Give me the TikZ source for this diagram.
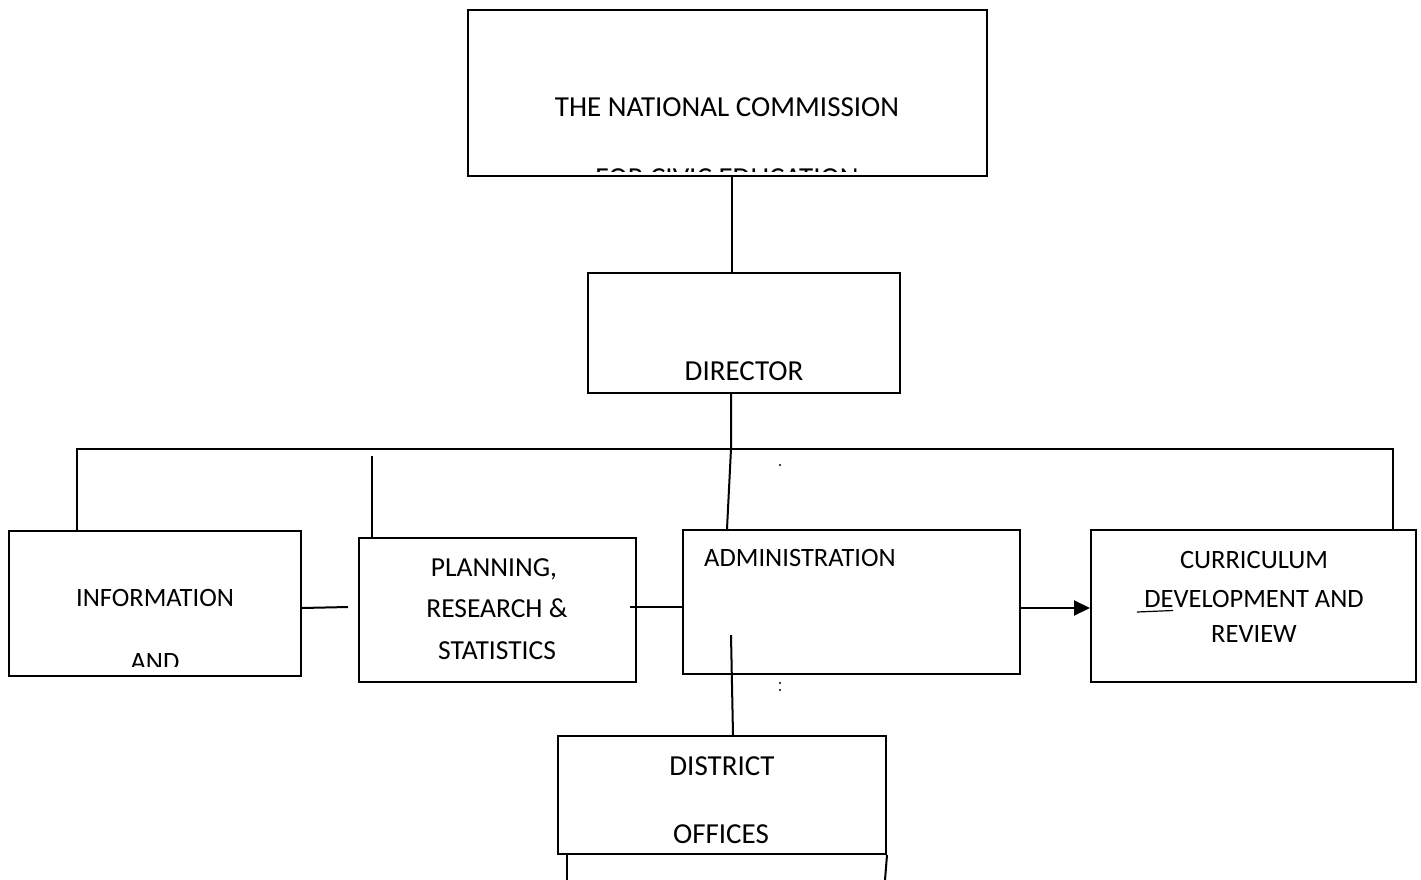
\documentclass[tikz,border=0pt]{standalone}
\usepackage{fontspec}
\setmainfont{Carlito}
\usepackage{tikz}
\usetikzlibrary{arrows.meta,positioning}

\begin{document}
\begin{tikzpicture}
	[x=1pt,y=-1pt,
	unitbox/.style={rectangle,draw=black,line width=2pt,inner sep=0pt},
	bigtxt/.style={anchor=base,inner sep=0pt,font=\fontsize{29}{35}\selectfont},
	midtxt/.style={anchor=base,inner sep=0pt,font=\fontsize{27.5}{33}\selectfont},
	smalltxt/.style={anchor=base,inner sep=0pt,font=\fontsize{26.5}{32}\selectfont},
	link/.style={draw=black,line width=2pt}]
	\useasboundingbox (0,0) rectangle (1421,880);

	%boxes
	\node[unitbox,minimum width=519,minimum height=166] (comm) at (727.5,93) {};
	\node[unitbox,minimum width=312,minimum height=120] (dir) at (744,333) {};
	\node[unitbox,minimum width=292,minimum height=145] (info) at (155,603.5) {};
	\node[unitbox,minimum width=277,minimum height=144] (plan) at (497.5,610) {};
	\node[unitbox,minimum width=337,minimum height=144] (admin) at (851.5,602) {};
	\node[unitbox,minimum width=325,minimum height=152] (curr) at (1253.5,606) {};
	\node[unitbox,minimum width=328,minimum height=118] (dist) at (722,795) {};

	%texts
	\node[bigtxt] (commA) at (727,116.3) {THE NATIONAL COMMISSION};
	\begin{scope}
		\clip (468,10) rectangle (987,171);
		\node[bigtxt] (commB) at (727,187.5) {FOR CIVIC EDUCATION};
	\end{scope}
	\node[bigtxt] (dirA) at (744,380.3) {DIRECTOR};
	\node[smalltxt] (infoA) at (155,606.5) {INFORMATION};
	\begin{scope}
		\clip (9,531) rectangle (301,666);
		\node[smalltxt] (infoB) at (155,670) {AND};
	\end{scope}
	\node[midtxt] (planA) at (494,576) {PLANNING,};
	\node[midtxt] (planB) at (497,617) {RESEARCH \&};
	\node[midtxt] (planC) at (497,659) {STATISTICS};
	\node[smalltxt] (adminA) at (800,566.5) {ADMINISTRATION};
	\node[smalltxt] (currA) at (1254,568) {CURRICULUM};
	\node[smalltxt] (currB) at (1254,607) {DEVELOPMENT AND};
	\node[smalltxt] (currC) at (1254,642) {REVIEW};
	\node[bigtxt] (distA) at (722,775.3) {DISTRICT};
	\node[bigtxt] (distB) at (721,843.3) {OFFICES};

	%connectors
	\coordinate (busL) at (77,449);
	\coordinate (busM) at (731,449);
	\coordinate (busR) at (1393,449);
	\coordinate (planTop) at (372,456);
	\coordinate (infoEnd) at (348,607);
	\coordinate (planStart) at (630,607);
	\coordinate (adminIn) at (731,635);

	\draw[link] (comm.south -| 732,0) -- (dir.north -| 732,0);
	\draw[link] (dir.south -| busM) -- (busM) -- (admin.north -| 727,0);
	\draw[link] (info.north -| busL) -- (busL) -- (busR) -- (curr.north -| busR);
	\draw[link] (plan.north -| planTop) -- (planTop);
	\draw[link] (info.east |- 0,608) -- (infoEnd);
	\draw[link] (planStart) -- (admin.west |- planStart);
	\draw[link,-{Triangle[length=16pt,width=15pt]}] (admin.east |- 0,608) -- (curr.west |- 0,608);
	\draw[link] (adminIn) -- (dist.north -| 733,0);
	\draw[link] (dist.south -| 567,0) -- (567,880);
	\draw[link] (dist.south east) -- (885,880);

	%marks
	\draw[line width=1.2pt] (1137,612) -- (1173,610.5);
	\fill (780,465) circle (1.1);
	\fill (780,683) circle (1.1);
	\fill (780,690) circle (1.1);
\end{tikzpicture}
\end{document}
